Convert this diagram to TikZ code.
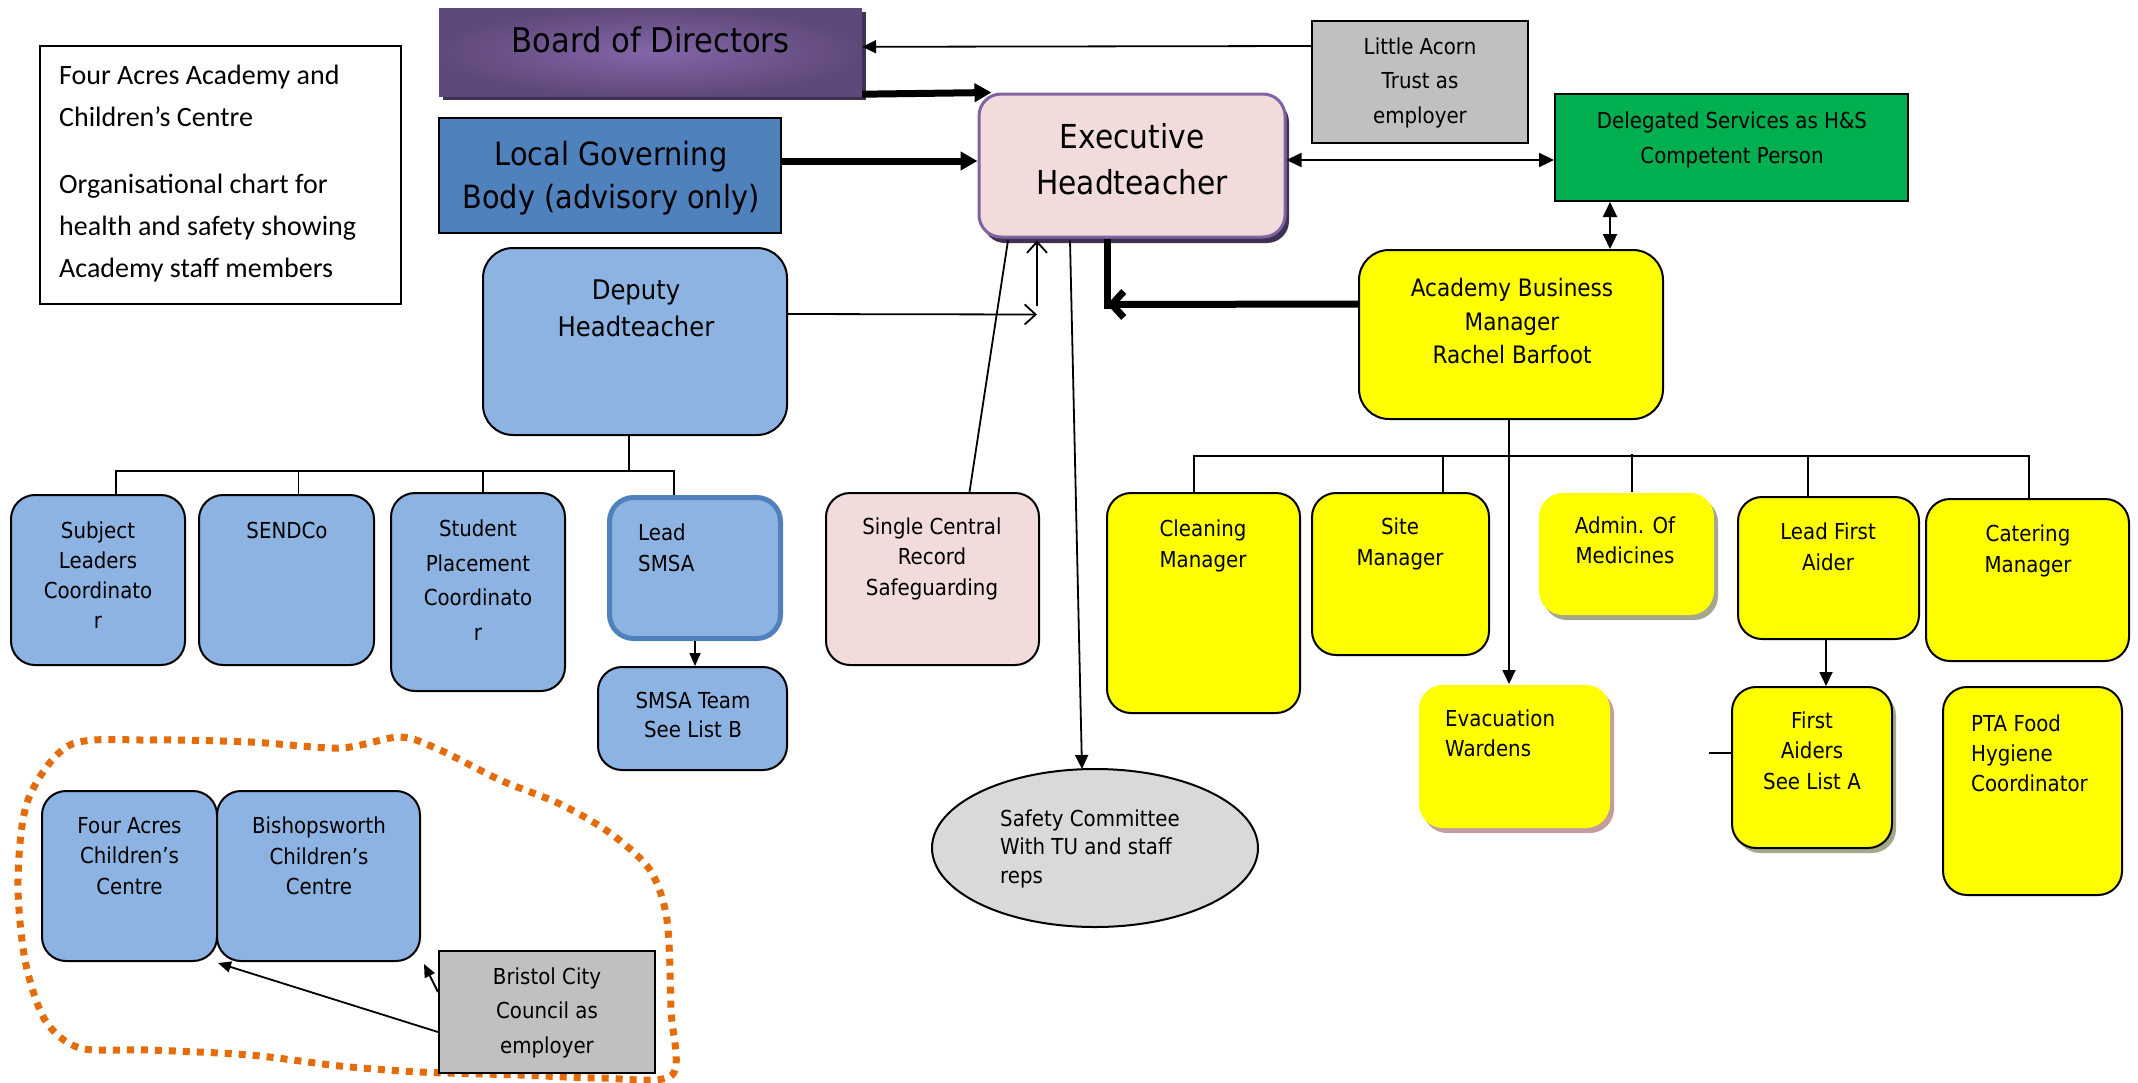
\documentclass[tikz,border=0pt]{standalone}
\usepackage{fontspec}
\newfontfamily\comicfont[FakeStretch=0.9]{DejaVu Sans}
\newfontfamily\calfont{Carlito}
\usetikzlibrary{calc,positioning,arrows.meta,shadows,shapes.geometric}

\definecolor{bodD}{HTML}{5F497A}
\definecolor{bodL}{HTML}{8466A8}
\definecolor{bodS}{HTML}{3F3151}
\definecolor{lgbblue}{HTML}{4F81BD}
\definecolor{lblue}{HTML}{8DB3E2}
\definecolor{execpink}{HTML}{F2DCDB}
\definecolor{execline}{HTML}{8064A2}
\definecolor{greybox}{HTML}{C0C0C0}
\definecolor{delgreen}{HTML}{00B050}
\definecolor{safegrey}{HTML}{D9D9D9}
\definecolor{dotorange}{HTML}{E46C0A}
\definecolor{yel}{HTML}{FFFF00}
\definecolor{olivesh}{HTML}{A3A88C}
\definecolor{rosesh}{HTML}{C49C9C}

\begin{document}
\begin{tikzpicture}[x=1pt,y=-1pt,
	sz/.style 2 args={minimum width=#1pt, minimum height=#2pt},
	fs/.style 2 args={font=\comicfont\fontsize{#1}{#2}\selectfont},
	box/.style={draw=black, line width=2pt, inner sep=0pt},
	bluebox/.style={box, fill=lblue, rounded corners=24pt},
	yelbox/.style={box, fill=yel, rounded corners=24pt},
	shd/.style={drop shadow={fill=#1, opacity=1, shadow xshift=4pt, shadow yshift=-5pt}},
	txt/.style={fs={22}{30}, align=center, inner sep=0pt},
	conn/.style={line width=1.8pt},
	tri/.style={conn, -{Triangle[length=14pt,width=13pt]}},
	trism/.style={conn, -{Triangle[length=13pt,width=11pt]}},
	dtri/.style={line width=2.2pt, {Triangle[length=15pt,width=14pt]}-{Triangle[length=15pt,width=14pt]}},
	barb/.style={conn, -{Straight Barb[length=11pt,width=20pt]}},
	bigline/.style={line width=7pt},
	bigtri/.style={bigline, -{Triangle[length=17pt,width=18pt]}},
	bigbarb/.style={bigline, -{Straight Barb[length=12pt,width=26pt]}},
	orangeloop/.style={dotorange, line width=7pt, dash pattern=on 7pt off 7pt}]

	\useasboundingbox (0,0) rectangle (2138,1082);

	% dotted loop round the centres
	\draw[orangeloop] plot[smooth cycle, tension=0.5] coordinates {(70,745) (150,740) (250,742) (340,748) (400,737) (440,750) (500,780) (560,804) (610,833) (650,870) (667,920) (671,1010) (672,1075) (600,1078) (520,1075) (420,1072) (340,1066) (250,1055) (150,1050) (80,1048) (45,1020) (25,960) (18,880) (28,800)};

	% title
	\node[box, sz={361}{258}] (title) at (220.5,175) {};
	\node[font=\calfont\fontsize{28}{42}\selectfont, align=left, anchor=north west, inner sep=0pt] (titlet) at (59,65) {Four Acres Academy and\\Children’s Centre\\[25pt]Organisational chart for\\health and safety showing\\Academy staff members};

	% top row
	\node[sz={423}{88}, inner color=bodL, outer color=bodD, drop shadow={fill=bodS, opacity=1, shadow xshift=4pt, shadow yshift=-4pt}] (bod) at (650.5,52) {};
	\node[txt, fs={34}{40}] (bodt) at (650.5,40) {Board of Directors};

	\node[box, line width=2.5pt, fill=lgbblue, sz={342}{115}] (lgb) at (610,175.5) {};
	\node[txt, fs={32}{43}] (lgbt) at (611,178) {Local Governing\\Body (advisory only)};

	\node[sz={306}{143}, fill=execpink, draw=execline, line width=3pt, rounded corners=22pt, drop shadow={fill=bodS, opacity=1, shadow xshift=4pt, shadow yshift=-6pt}] (exec) at (1132,165.5) {};
	\node[txt, fs={33}{46}] (exect) at (1132,159.5) {Executive\\Headteacher};

	\node[box, fill=greybox, sz={216}{122}] (acorn) at (1420,82) {};
	\node[txt, fs={22}{34.5}] (acornt) at (1420,82.5) {Little Acorn\\Trust as\\employer};

	\node[box, fill=delgreen, sz={353}{107}] (deleg) at (1731.5,147.5) {};
	\node[txt, fs={22}{35}] (delegt) at (1732,139.5) {Delegated Services as H\&S\\Competent Person};

	% second row
	\node[bluebox, rounded corners=30pt, sz={304}{187}] (deputy) at (635,341.5) {};
	\node[txt, fs={27}{37}] (deputyt) at (636,308.5) {Deputy\\Headteacher};

	\node[yelbox, rounded corners=30pt, sz={304}{169}] (abm) at (1511,334.5) {};
	\node[txt, fs={24}{33.5}] (abmt) at (1512,321.5) {Academy Business\\Manager\\Rachel Barfoot};

	% deputy's team
	\node[bluebox, sz={174}{170}] (subj) at (98,580) {};
	\node[txt] (subjt) at (98,575.5) {Subject\\Leaders\\Coordinato\\r};
	\node[bluebox, sz={175}{170}] (send) at (286.5,580) {};
	\node[txt] (sendt) at (287,530) {SENDCo};
	\node[bluebox, sz={174}{198}] (stud) at (478,592) {};
	\node[txt, fs={22}{34.5}] (studt) at (478,580) {Student\\Placement\\Coordinato\\r};
	\node[bluebox, draw=lgbblue, line width=5pt, sz={171}{141}] (lsmsa) at (695,568) {};
	\node[txt, align=left, anchor=west, fs={22}{30.5}] (lsmsat) at (638,548) {Lead\\SMSA};
	\node[bluebox, sz={189}{103}] (smsat) at (692.5,718.5) {};
	\node[txt, fs={22}{29}] (smsatt) at (693,714.5) {SMSA Team\\See List B};

	\node[bluebox, fill=execpink, sz={213}{172}] (scr) at (932.5,579) {};
	\node[txt, fs={22}{30.5}] (scrt) at (932,558.5) {Single Central\\Record\\Safeguarding};
	\node[box, ellipse, fill=safegrey, sz={326}{158}] (safety) at (1095,848) {};
	\node[txt, align=left, anchor=west, fs={22}{28.5}] (safetyt) at (1000,848.5) {Safety Committee\\With TU and staff\\reps};

	% business manager's team
	\node[yelbox, sz={193}{220}] (clean) at (1203.5,603) {};
	\node[txt, fs={22}{31}] (cleant) at (1203,545.5) {Cleaning\\Manager};
	\node[yelbox, sz={177}{162}] (site) at (1400.5,574) {};
	\node[txt, fs={22}{31}] (sitet) at (1400,543.5) {Site\\Manager};
	\node[yelbox, draw=none, shd=olivesh, sz={175}{122}] (admin) at (1626.5,554) {};
	\node[txt] (admint) at (1625,540) {Admin. Of\\Medicines};
	\node[yelbox, sz={181}{142}] (lfa) at (1828.5,568) {};
	\node[txt, fs={22}{31}] (lfat) at (1828,546.5) {Lead First\\Aider};
	\node[yelbox, sz={203}{162}] (cater) at (2027.5,580) {};
	\node[txt, fs={22}{31}] (catert) at (2028,550.5) {Catering\\Manager};
	\node[yelbox, draw=none, shd=rosesh, sz={191}{143}] (evac) at (1514.5,756.5) {};
	\node[txt, align=left, anchor=west] (evact) at (1445,733) {Evacuation\\Wardens};
	\node[yelbox, shd=olivesh, sz={160}{161}] (fa) at (1812,767.5) {};
	\node[txt, fs={22}{30.5}] (fat) at (1812,750.5) {First\\Aiders\\See List A};
	\node[yelbox, sz={179}{208}] (pta) at (2032.5,791) {};
	\node[txt, align=left, anchor=west] (ptat) at (1971,753) {PTA Food\\Hygiene\\Coordinator};

	% children's centres
	\node[bluebox, sz={175}{170}] (facc) at (129.5,876) {};
	\node[txt, fs={22}{30.5}] (facct) at (129.5,856) {Four Acres\\Children’s\\Centre};
	\node[bluebox, sz={203}{170}] (bcc) at (318.5,876) {};
	\node[txt, fs={22}{30.5}] (bcct) at (319,856) {Bishopsworth\\Children’s\\Centre};
	\node[box, fill=greybox, sz={216}{122}] (bristol) at (547,1012) {};
	\node[txt, fs={22}{34.5}] (bristolt) at (547,1012.5) {Bristol City\\Council as\\employer};

	% connectors, top
	\draw[tri] ($(acorn.north west)+(0,26)$) -- ($(bod.north east)+(0,39)$);
	\draw[bigtri] ($(bod.south east)+(0,-2)$) -- ($(exec.north west)+(14,0)$);
	\draw[bigtri] (lgb.east |- 0,161) -- (exec.west |- 0,161);
	\draw[dtri] (exec.east |- 0,160) -- (deleg.west |- 0,160);
	\draw[dtri] (deleg.south -| 1610,0) -- (abm.north -| 1610,0);
	\draw[bigline] ($(exec.south)+(-25,0)$) -- ($(exec.south)+(-25,70)$);
	\draw[bigbarb] (abm.west |- 0,304) -- ($(exec.south)+(-25,66)$);
	\draw[barb] (deputy.east |- 0,314) -- ($(exec.south)+(-95,76)$);
	\draw[barb] ($(exec.south)+(-95,67)$) -- ($(exec.south)+(-95,2)$);
	\draw[conn] ($(scr.north)+(37,0)$) -- ($(exec.south)+(-124,2)$);
	\draw[tri] ($(exec.south)+(-62,2)$) -- ($(safety.north)+(-13,1)$);

	% deputy's tree
	\draw[conn] ($(deputy.south)+(-6,0)$) -- ++(0,36);
	\draw[conn] ($(subj.north)+(18,0)$) |- ($(lsmsa.north)+(-21,-24)$) -- ($(lsmsa.north)+(-21,0)$);
	\draw[conn] ($(send.north)+(12,0)$) -- ++(0,-23);
	\draw[conn] ($(stud.north)+(5,0)$) -- ++(0,-22);
	\draw[trism] (lsmsa.south) -- (lsmsa.south |- smsat.north);

	% business manager's tree
	\draw[conn] ($(clean.north)+(-9.5,0)$) |- ($(cater.north)+(1.5,-42)$) -- ($(cater.north)+(1.5,0)$);
	\draw[conn] ($(site.north)+(42.5,0)$) -- ++(0,-36);
	\draw[conn] ($(admin.north)+(5.5,0)$) -- ++(0,-38);
	\draw[conn] ($(lfa.north)+(-20.5,0)$) -- ++(0,-40);
	\draw[tri] ($(abm.south)+(-2,0)$) -- ($(evac.north)+(-5.5,0)$);
	\draw[tri] ($(lfa.south)+(-2.5,0)$) -- ($(fa.north)+(14,0)$);
	\draw[conn] ($(fa.west)+(0,-14.5)$) -- ++(-22,0);

	% council arrows
	\draw[trism] ($(bristol.west)+(0,20)$) -- ($(facc.south east)+(0,1)$);
	\draw[trism] ($(bristol.north west)+(0,42)$) -- ($(bcc.south east)+(3,2)$);
\end{tikzpicture}
\end{document}
